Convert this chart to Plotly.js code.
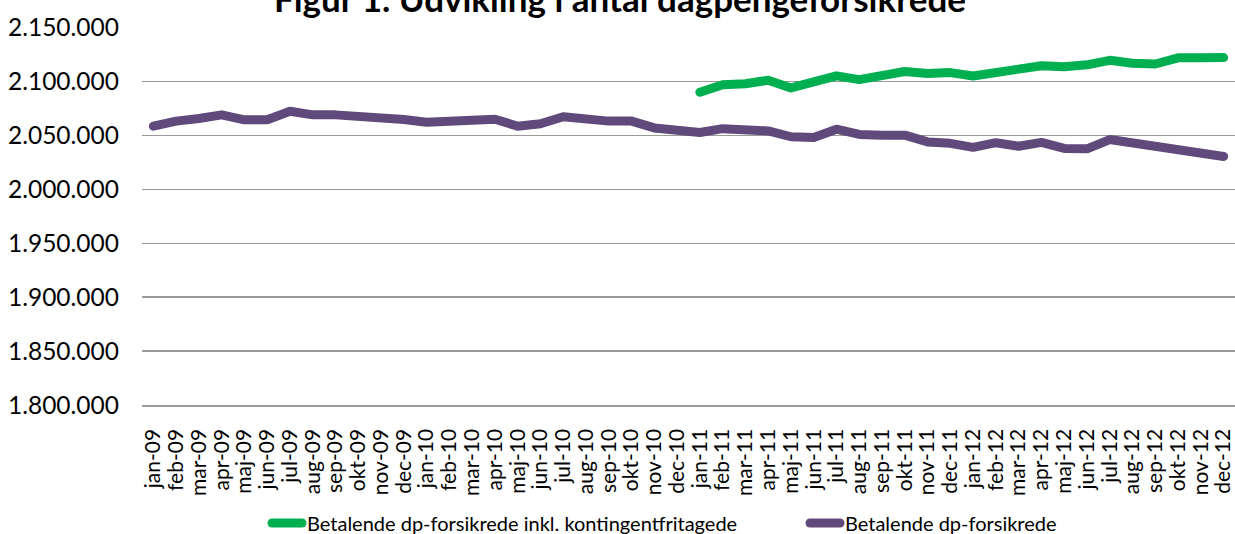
<!DOCTYPE html>
<html>
<head>
<meta charset="utf-8">
<script src="https://cdn.plot.ly/plotly-3.0.1.min.js"></script>
<style>
html,body{margin:0;padding:0;background:#fff;}
#chart{width:1235px;height:534px;}
.scatterlayer .js-line, .legendlines path{stroke-linecap:round;stroke-linejoin:round;}
</style>
</head>
<body>
<div id="chart"></div>
<script>
const months = ['jan-09','feb-09','mar-09','apr-09','maj-09','jun-09','jul-09','aug-09','sep-09','okt-09','nov-09','dec-09',
  'jan-10','feb-10','mar-10','apr-10','maj-10','jun-10','jul-10','aug-10','sep-10','okt-10','nov-10','dec-10',
  'jan-11','feb-11','mar-11','apr-11','maj-11','jun-11','jul-11','aug-11','sep-11','okt-11','nov-11','dec-11',
  'jan-12','feb-12','mar-12','apr-12','maj-12','jun-12','jul-12','aug-12','sep-12','okt-12','nov-12','dec-12'];

const inklFritagede = [null,null,null,null,null,null,null,null,null,null,null,null,
  null,null,null,null,null,null,null,null,null,null,null,null,
  2090000,2097000,2098000,2101200,2094100,2098700,2105300,2101800,2106000,2109300,2107500,2108300,
  2105200,2108200,2111300,2114700,2113800,2115500,2119700,2116900,2116300,2122000,2122000,2122200];

const betalende = [2058600,2063300,2065800,2069100,2064500,2064500,2072500,2069100,2069100,2068200,2066700,2064800,
  2062300,2063600,2063000,2065100,2058600,2060800,2067300,2065100,2063300,2063300,2057000,2054800,
  2052800,2056300,2054200,2054200,2048800,2048100,2055800,2051000,2050300,2050300,2044000,2042700,
  2039000,2043300,2040000,2043600,2038000,2037600,2046200,2043000,2039300,2037500,2033200,2030500];

const seriesNames = ['Betalende dp-forsikrede inkl. kontingentfritagede','Betalende dp-forsikrede'];
const yTicks = [1800000,1850000,1900000,1950000,2000000,2050000,2100000,2150000];
const titleText = 'Figur 1. Udvikling i antal dagpengeforsikrede';

const FONT = 'Lato, "Open Sans", sans-serif';

const traces = [
  {x: months, y: inklFritagede, name: seriesNames[0], type: 'scatter', mode: 'lines',
   line: {color: '#00B050', width: 9}, connectgaps: false, legend: 'legend'},
  {x: months, y: betalende, name: seriesNames[1], type: 'scatter', mode: 'lines',
   line: {color: '#604A7B', width: 9}, legend: 'legend2'}
];

const legendBase = {orientation: 'h', xref: 'container', yref: 'container', xanchor: 'left',
  y: 0.0206, yanchor: 'middle',
  font: {size: 20, family: FONT, color: '#000'}, bgcolor: 'rgba(0,0,0,0)'};

const layout = {
  width: 1235, height: 534,
  margin: {l: 142, r: 0, t: 27, b: 129, autoexpand: false},
  paper_bgcolor: '#fff', plot_bgcolor: '#fff',
  separators: ',.',
  font: {family: FONT, color: '#000'},
  title: {text: '<b>' + titleText + '</b>', font: {family: FONT, size: 35, color: '#000'},
          x: 0.502, xanchor: 'center', xref: 'container', yref: 'container', y: 1, yanchor: 'middle'},
  xaxis: {type: 'category', range: [-0.5, months.length - 0.5],
          tickmode: 'array', tickvals: months, ticktext: months,
          tickangle: -90, tickfont: {size: 21, family: FONT},
          showgrid: false, showline: true, linecolor: '#9a9a9a', linewidth: 1.5,
          ticks: '', ticklabelstandoff: 14, fixedrange: true, automargin: false},
  yaxis: {range: [1800000, 2150600], tickvals: yTicks, tickformat: ',d',
          tickfont: {size: 24.5, family: FONT}, showgrid: true, gridcolor: '#9a9a9a', gridwidth: 1.5,
          zeroline: false, showline: false, ticks: '', ticklabelstandoff: 22, fixedrange: true, automargin: false},
  showlegend: true,
  legend: Object.assign({}, legendBase, {x: 0.2162}),
  legend2: Object.assign({}, legendBase, {x: 0.6518})
};

Plotly.newPlot('chart', traces, layout, {displayModeBar: false, staticPlot: true});
</script>
</body>
</html>
